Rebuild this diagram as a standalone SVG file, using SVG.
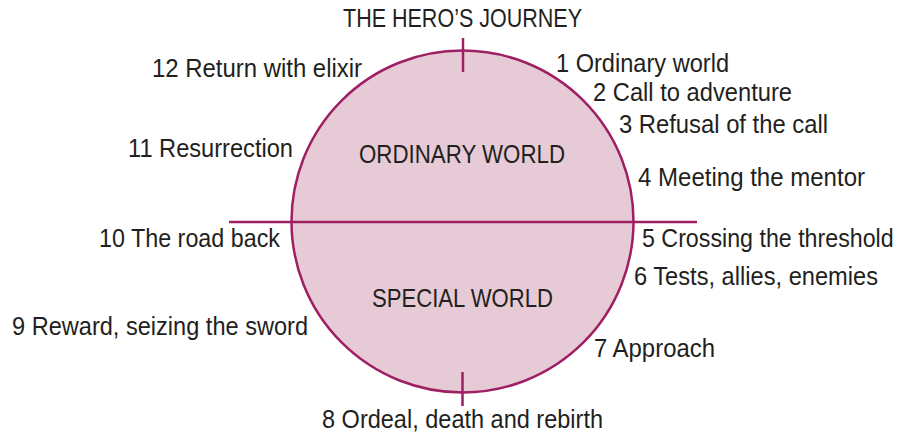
<svg xmlns="http://www.w3.org/2000/svg" width="901" height="434" viewBox="0 0 901 434">
<style>
.t{font-family:"Liberation Sans",Arial,sans-serif;font-size:25px;fill:#231f20}
.ln{stroke:#9e1f63;stroke-width:2.5;fill:none}
</style>
<rect width="901" height="434" fill="#ffffff"/>
<g id="circle">
<circle cx="462.5" cy="221.5" r="171" fill="#e6cbd6" stroke="#9e1f63" stroke-width="2.5"/>
</g>
<g id="connectors">
<line class="ln" x1="229" y1="222" x2="697" y2="222"/>
<line class="ln" x1="463" y1="38" x2="463" y2="72"/>
<line class="ln" x1="462.5" y1="372" x2="462.5" y2="406"/>
</g>
<g id="title"><text class="t" x="343" y="27" textLength="239" lengthAdjust="spacingAndGlyphs">THE HERO’S JOURNEY</text></g>
<g id="ordinary-world"><text class="t" x="359" y="163" textLength="206" lengthAdjust="spacingAndGlyphs">ORDINARY WORLD</text></g>
<g id="special-world"><text class="t" x="372" y="307" textLength="181" lengthAdjust="spacingAndGlyphs">SPECIAL WORLD</text></g>
<g id="s1"><text class="t" x="556" y="72" textLength="173" lengthAdjust="spacingAndGlyphs">1 Ordinary world</text></g>
<g id="s2"><text class="t" x="593" y="101" textLength="199" lengthAdjust="spacingAndGlyphs">2 Call to adventure</text></g>
<g id="s3"><text class="t" x="619" y="133" textLength="209" lengthAdjust="spacingAndGlyphs">3 Refusal of the call</text></g>
<g id="s4"><text class="t" x="638" y="186" textLength="227" lengthAdjust="spacingAndGlyphs">4 Meeting the mentor</text></g>
<g id="s5"><text class="t" transform="translate(642 247) scale(0.88 1)" x="0" y="0" textLength="286" lengthAdjust="spacingAndGlyphs">5 Crossing the threshold</text></g>
<g id="s6"><text class="t" x="634" y="285" textLength="244" lengthAdjust="spacingAndGlyphs">6 Tests, allies, enemies</text></g>
<g id="s7"><text class="t" x="594" y="357" textLength="121" lengthAdjust="spacingAndGlyphs">7 Approach</text></g>
<g id="s8"><text class="t" x="322" y="428" textLength="281" lengthAdjust="spacingAndGlyphs">8 Ordeal, death and rebirth</text></g>
<g id="s9"><text class="t" x="12" y="335" textLength="296" lengthAdjust="spacingAndGlyphs">9 Reward, seizing the sword</text></g>
<g id="s10"><text class="t" x="99" y="247" textLength="181" lengthAdjust="spacingAndGlyphs">10 The road back</text></g>
<g id="s11"><text class="t" x="128" y="157" textLength="165" lengthAdjust="spacingAndGlyphs">11 Resurrection</text></g>
<g id="s12"><text class="t" x="152" y="77" textLength="210" lengthAdjust="spacingAndGlyphs">12 Return with elixir</text></g>
</svg>
